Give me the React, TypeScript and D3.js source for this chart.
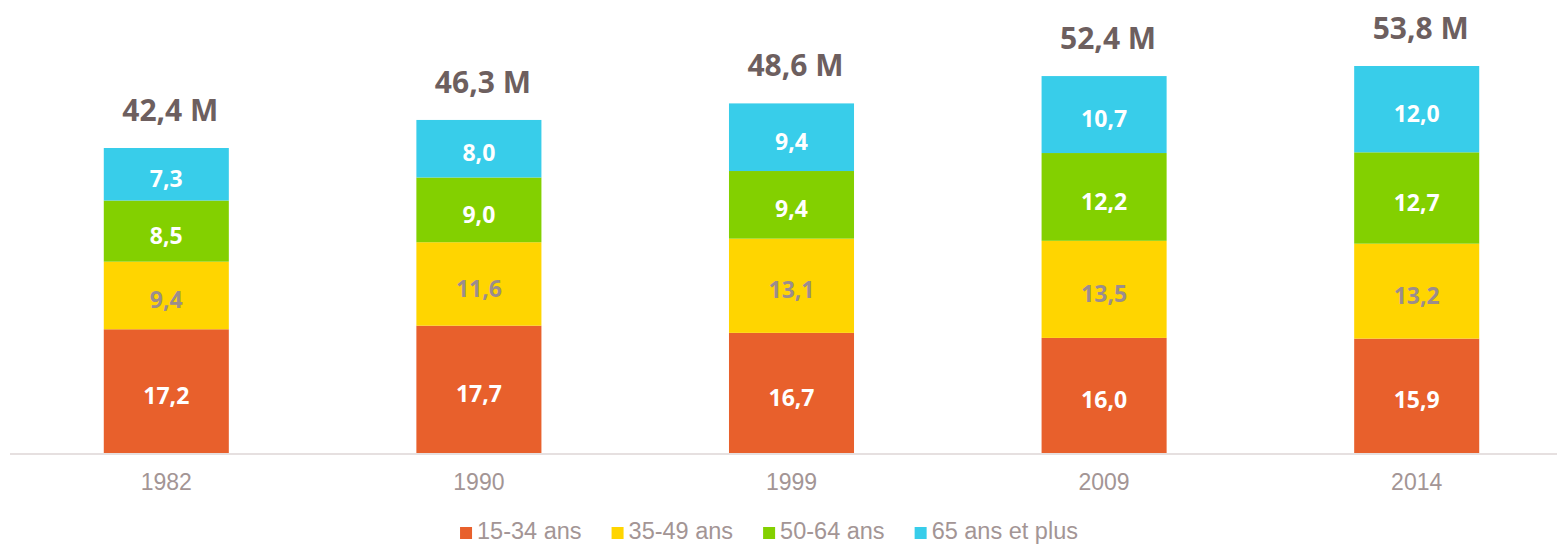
import React, { useEffect, useRef } from 'react';
import * as d3 from 'd3';

const years = ['1982', '1990', '1999', '2009', '2014'];
const seriesNames = ['15-34 ans', '35-49 ans', '50-64 ans', '65 ans et plus'];
const seriesColors = ['#e8602c', '#ffd500', '#83d000', '#38cdea'];
const labelColors = ['#ffffff', '#9b8d8d', '#ffffff', '#ffffff'];

const age15to34 = [17.2, 17.7, 16.7, 16.0, 15.9];
const age35to49 = [9.4, 11.6, 13.1, 13.5, 13.2];
const age50to64 = [8.5, 9.0, 9.4, 12.2, 12.7];
const age65plus = [7.3, 8.0, 9.4, 10.7, 12.0];
const totals = [42.4, 46.3, 48.6, 52.4, 53.8];

const fmt = (v: number) => v.toFixed(1).replace('.', ',');

export default function App() {
  const svgRef = useRef<SVGSVGElement | null>(null);

  useEffect(() => {
    if (!svgRef.current) return;
    const svg = d3.select(svgRef.current);
    svg.selectAll('*').remove();

    const width = 1557;
    const height = 545;
    const baseline = 453;

    const rows = years.map((year, i) => ({
      year,
      values: [age15to34[i], age35to49[i], age50to64[i], age65plus[i]],
      total: totals[i],
    }));

    const x = d3.scaleBand<string>()
      .domain(years)
      .range([10, 1573])
      .paddingInner(0.6)
      .paddingOuter(0.3);

    const y = d3.scaleLinear()
      .domain([0, 53.8])
      .range([baseline, 66]);

    // stacked segments
    const seg = rows.flatMap(r => {
      let acc = 0;
      return r.values.map((v, k) => {
        const y0 = acc;
        acc += v;
        return { year: r.year, k, v, y0, y1: acc };
      });
    });

    svg.append('g')
      .selectAll('rect')
      .data(seg)
      .join('rect')
      .attr('x', d => x(d.year)!)
      .attr('width', x.bandwidth())
      .attr('y', d => y(d.y1))
      .attr('height', d => y(d.y0) - y(d.y1))
      .attr('fill', d => seriesColors[d.k]);

    svg.append('g')
      .attr('font-family', '"Open Sans", sans-serif')
      .attr('font-weight', 700)
      .attr('font-size', 23)
      .attr('text-anchor', 'middle')
      .selectAll('text')
      .data(seg)
      .join('text')
      .attr('x', d => x(d.year)! + x.bandwidth() / 2)
      .attr('y', d => (y(d.y0) + y(d.y1)) / 2)
      .attr('dy', '0.55em')
      .attr('fill', d => labelColors[d.k])
      .text(d => fmt(d.v));

    // totals
    svg.append('g')
      .attr('font-family', '"Open Sans", sans-serif')
      .attr('font-weight', 700)
      .attr('font-size', 30)
      .attr('text-anchor', 'middle')
      .attr('fill', '#6d5f5f')
      .selectAll('text')
      .data(rows)
      .join('text')
      .attr('x', d => x(d.year)! + x.bandwidth() / 2 + 4)
      .attr('y', d => y(d.total) - 27)
      .text(d => `${fmt(d.total)} M`);

    // axis
    svg.append('line')
      .attr('x1', 10)
      .attr('x2', width)
      .attr('y1', baseline + 1)
      .attr('y2', baseline + 1)
      .attr('stroke', '#e6e0e0')
      .attr('stroke-width', 2);

    svg.append('g')
      .attr('font-family', '"Liberation Sans", Arial, sans-serif')
      .attr('font-size', 23)
      .attr('text-anchor', 'middle')
      .attr('fill', '#a39595')
      .selectAll('text')
      .data(years)
      .join('text')
      .attr('x', d => x(d)! + x.bandwidth() / 2)
      .attr('y', 490)
      .text(d => d);

    // legend
    const legend = svg.append('g')
      .attr('font-family', '"Liberation Sans", Arial, sans-serif')
      .attr('font-size', 23.5)
      .attr('fill', '#a39595');

    const items = legend.selectAll('g')
      .data(seriesNames)
      .join('g');

    items.append('rect')
      .attr('width', 12)
      .attr('height', 12)
      .attr('y', 527)
      .attr('fill', (d, i) => seriesColors[i]);

    items.append('text')
      .attr('x', 17)
      .attr('y', 539)
      .text(d => d);

    let offset = 0;
    const positions: number[] = [];
    items.each(function () {
      positions.push(offset);
      const w = (this as SVGGElement).getBBox().width;
      offset += w + 30;
    });
    const totalW = offset - 30;
    const start = 769 - totalW / 2;
    items.attr('transform', (d, i) => `translate(${start + positions[i]},0)`);

    svg.attr('width', width).attr('height', height);
  }, []);

  return (
    <svg
      ref={svgRef}
      width={1557}
      height={545}
      style={{ position: 'absolute', left: 0, top: 0, background: '#ffffff' }}
    />
  );
}
